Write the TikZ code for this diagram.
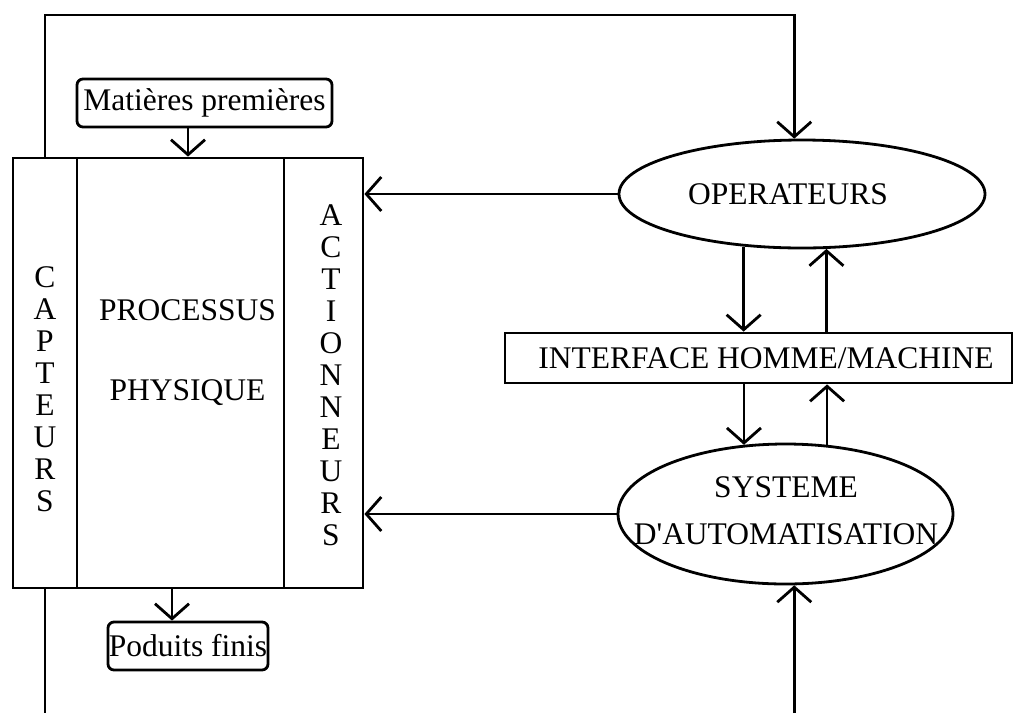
\documentclass[tikz,border=0pt]{standalone}
\usepackage{fontspec}
\setmainfont{Liberation Serif}
\usetikzlibrary{arrows.meta,shapes.geometric,calc}

\begin{document}
\begin{tikzpicture}[x=1pt,y=-1pt,
  line width=2.8pt,
  lbl/.style={inner sep=0pt, font=\fontsize{31.5}{32}\selectfont},
  col/.style={draw, rectangle, inner sep=0pt, minimum height=430pt},
  tag/.style={draw, rounded corners=6pt, inner sep=0pt, minimum height=48pt,
              font=\fontsize{31.5}{32}\selectfont},
  oval/.style={draw, ellipse, inner sep=0pt},
  arr/.style={-{Straight Barb[length=15pt,width=34pt]}},
]
\useasboundingbox (0,0) rectangle (1017,713);

% process block: sensors | physical process | actuators
\node[col, minimum width=64pt]  (capt) at (45,373)    {};
\node[col, minimum width=207pt] (proc) at (180.5,373) {};
\node[col, minimum width=79pt]  (act)  at (323.5,373) {};
\node[lbl, align=center, anchor=north] (captlbl) at (45,265) {C\\A\\P\\T\\E\\U\\R\\S};
\node[lbl, align=center, anchor=north] (actlbl)  at (331,203) {A\\C\\T\\I\\O\\N\\N\\E\\U\\R\\S};
\node[lbl, align=center, anchor=north, font=\fontsize{31.5}{80}\selectfont] (proclbl)
  at (187.5,298) {PROCESSUS\\PHYSIQUE};

% inputs and outputs
\node[tag, minimum width=255pt] (mp) at (204.5,103) {Matières premières};
\node[tag, minimum width=160pt] (pf) at (188,646)   {Poduits finis};

% control side
\node[oval, minimum width=366pt, minimum height=108pt] (op) at (802,194) {};
\node[lbl] (oplbl) at (788,194) {OPERATEURS};
\node[draw, rectangle, inner sep=0pt, minimum width=507pt, minimum height=50pt] (ihm) at (758.5,358) {};
\node[lbl] (ihmlbl) at (766,358) {INTERFACE HOMME/MACHINE};
\node[oval, minimum width=335pt, minimum height=140pt] (sys) at (785.5,514) {};
\node[lbl, align=center, anchor=north, font=\fontsize{31.5}{47}\selectfont] (syslbl)
  at (786,475) {SYSTEME\\D\textquotesingle AUTOMATISATION};

% connectors
\coordinate (rail)  at (0,15);
\coordinate (floor) at (0,713);
\draw[arr] (capt.north) -- (capt.north |- rail) -| (op.98);
\draw[arr] ([xshift=-16.5pt]mp.south) -- ([xshift=-16.5pt]mp.south |- proc.north);
\draw[arr] ([xshift=-16pt]pf.north |- proc.south) -- ([xshift=-16pt]pf.north);
\draw (capt.south) -- (capt.south |- floor);
\draw[arr] (op.west)  -- (op.west -| act.east);
\draw[arr] (sys.west) -- (sys.west -| act.east);
\draw[arr] (op.222) -- (op.222 |- ihm.north);
\draw[arr] (op.294 |- ihm.north) -- (op.294);
\draw[arr] (sys.121 |- ihm.south) -- (sys.121);
\draw[arr] (sys.59) -- (sys.59 |- ihm.south);
\draw[arr] (sys.277 |- floor) -- (sys.277);
\end{tikzpicture}
\end{document}
